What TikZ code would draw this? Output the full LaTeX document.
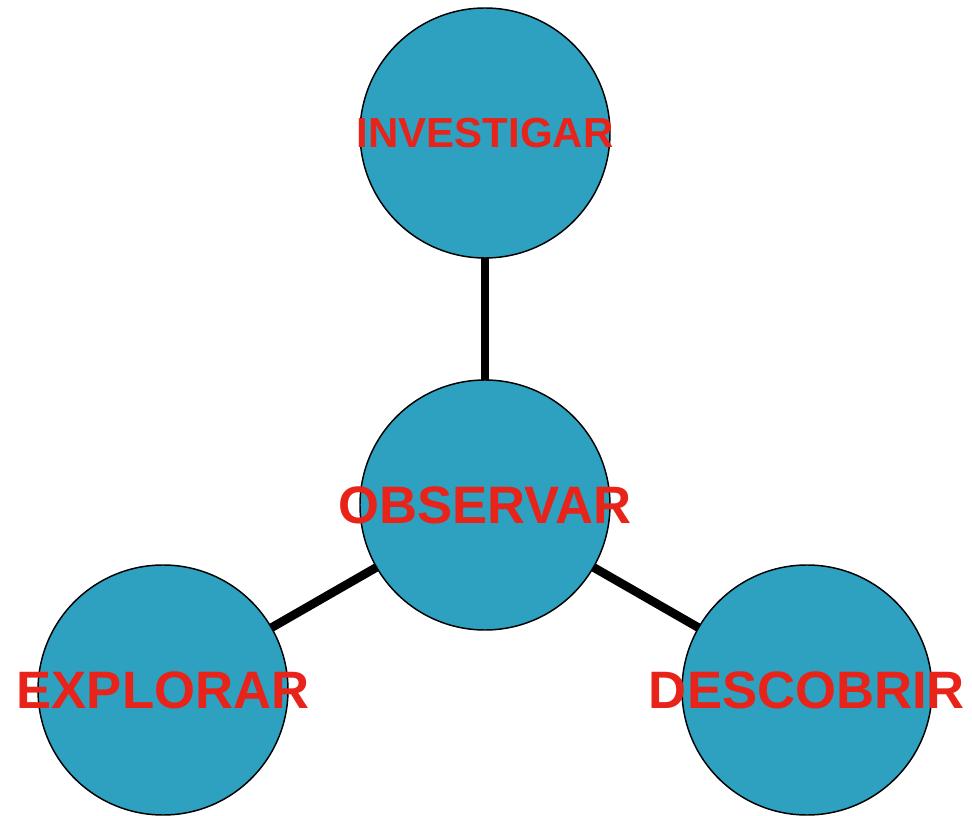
\documentclass[tikz,border=0pt]{standalone}
\usepackage{fontspec}
\setmainfont{Liberation Sans}
\usepackage{xcolor}
\usetikzlibrary{positioning, backgrounds}
\definecolor{obsFill}{HTML}{2DA1BF}
\definecolor{obsText}{HTML}{E8231A}

\begin{document}
\begin{tikzpicture}[
  x=0.75pt, y=-0.75pt,
  bubble/.style={circle, draw=black, line width=1.1pt, fill=obsFill,
                 minimum size=187.5pt, inner sep=0pt},
  word/.style={text=obsText, font=\fontsize{39.5}{44}\selectfont\bfseries, inner sep=0pt},
  smallword/.style={text=obsText, font=\fontsize{31.5}{34}\selectfont\bfseries, inner sep=0pt},
  link/.style={line width=6.5pt, color=black}
]
\useasboundingbox (0,0) rectangle (972,816);

\node[bubble, label={[smallword]center:INVESTIGAR}] (inv) at (485,133) {};
\node[bubble, label={[word]center:OBSERVAR}] (obs) at (485,505) {};
\node[bubble, label={[word]center:EXPLORAR}] (exp) at (163,690) {};
\node[bubble, label={[word]center:DESCOBRIR}] (desc) at (807,690) {};

\begin{scope}[on background layer]
  \draw[link] (obs.center) -- (inv.center);
  \draw[link] (obs.center) -- (exp.center);
  \draw[link] (obs.center) -- (desc.center);
\end{scope}

\end{tikzpicture}
\end{document}
